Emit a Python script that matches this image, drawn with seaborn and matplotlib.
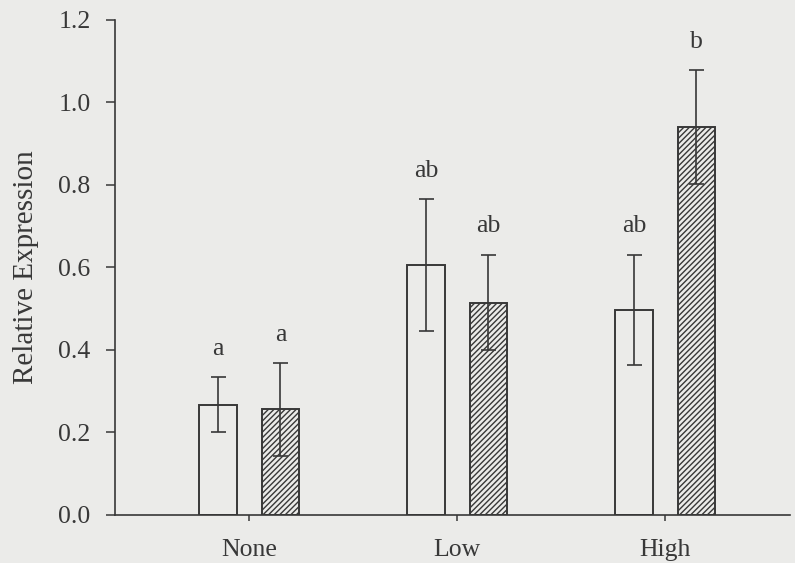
import matplotlib
matplotlib.use("Agg")
import matplotlib.pyplot as plt
import seaborn as sns
import pandas as pd

# ---- data ----
categories = ["None", "Low", "High"]
groups = ["plain", "hatched"]
plain_means = [0.267, 0.606, 0.497]
plain_errs = [0.067, 0.160, 0.134]
hatched_means = [0.256, 0.515, 0.941]
hatched_errs = [0.112, 0.116, 0.138]
plain_letters = ["a", "ab", "ab"]
hatched_letters = ["a", "ab", "b"]
yticks = [0.0, 0.2, 0.4, 0.6, 0.8, 1.0, 1.2]
ylabel = "Relative Expression"

bg = "#ebebe9"
ink = "#383838"

sns.set_theme(style="ticks")
plt.rcParams["font.family"] = ["Liberation Serif", "DejaVu Serif"]
plt.rcParams["hatch.color"] = "#4a4a4a"
plt.rcParams["hatch.linewidth"] = 1.0

df = pd.DataFrame({
    "Level": categories * 2,
    "Group": [groups[0]] * 3 + [groups[1]] * 3,
    "Value": plain_means + hatched_means,
    "Err": plain_errs + hatched_errs,
    "Letter": plain_letters + hatched_letters,
})

fig = plt.figure(figsize=(7.95, 5.63), dpi=100, facecolor=bg)
ax = fig.add_axes([0.1447, 0.0853, 0.849, 0.8792])
ax.set_facecolor(bg)

sns.barplot(data=df, x="Level", y="Value", hue="Group", order=categories,
            hue_order=groups, width=0.6, gap=0.4, palette=[bg, bg],
            edgecolor=ink, linewidth=1.4, errorbar=None, legend=False, ax=ax)

for cont, key in zip(ax.containers, groups):
    sub = df[df["Group"] == key].set_index("Level").loc[categories]
    for bar, (_, row) in zip(cont, sub.iterrows()):
        if key == "hatched":
            bar.set_hatch("//////")
        xc = bar.get_x() + bar.get_width() / 2
        ax.errorbar(xc, row["Value"], yerr=row["Err"], fmt="none",
                    ecolor=ink, elinewidth=1.2, capsize=5.4, capthick=1.2,
                    zorder=5)
        ax.annotate(row["Letter"], (xc, row["Value"] + row["Err"]),
                    xytext=(0, 16), textcoords="offset points",
                    ha="center", va="baseline", fontsize=18.5, color=ink)

ax.set_ylim(0, 1.2)
ax.set_xlim(-0.645, 2.6)
ax.set_yticks(yticks)
ax.set_yticklabels([f"{t:.1f}" for t in yticks])
ax.set_xlabel("")
ax.set_ylabel(ylabel, fontsize=21, color=ink, labelpad=14)

for s in ["top", "right"]:
    ax.spines[s].set_visible(False)
for s in ["left", "bottom"]:
    ax.spines[s].set_color(ink)
    ax.spines[s].set_linewidth(1.2)

ax.tick_params(axis="y", direction="out", length=6.5, width=1.1, color=ink,
               labelsize=18.5, labelcolor=ink, pad=11)
ax.tick_params(axis="x", direction="out", length=4.5, width=1.1, color=ink,
               labelsize=18.5, labelcolor=ink, pad=13)

fig.savefig("out.png", dpi=100, facecolor=bg)
